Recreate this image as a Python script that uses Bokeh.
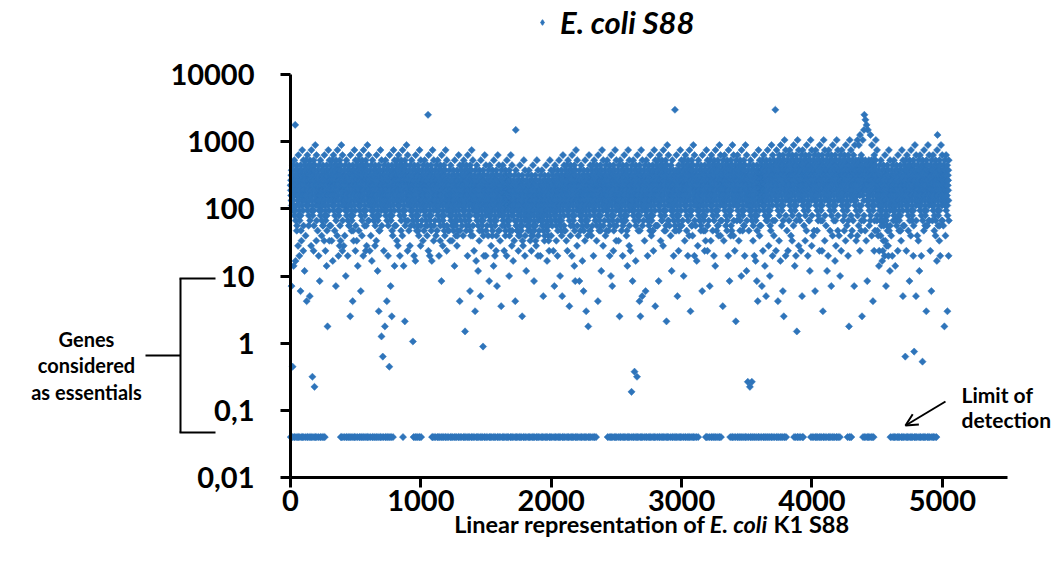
import math
from bokeh.plotting import figure
from bokeh.models import (FixedTicker, Label, Arrow, OpenHead, Legend, LegendItem,
                          ColumnDataSource, LinearAxis, LogAxis, CDSView, IndexFilter)
from bokeh.embed import file_html
from bokeh.resources import INLINE

# ---------------------------------------------------------------- data
# One code per gene, in genome order (gene 1, 2, 3, ...).
# "_" = gene at the limit of detection (0.04); any other code is a log10 level:
# index k in CODE_ALPHABET -> value 10 ** (LOG_FIRST + k * LOG_STEP)
CODE_ALPHABET = "0123456789ABCDEFGHIJKLMNOPQRSTUVWXYZabcdefghijklmnopqrstuvwxyz"
LOD_CODE = "_"
LOD_VALUE = 0.04
LOG_FIRST = -0.8
LOG_STEP = 0.075

genes_0001_1000 = [
    "g_fheidMjcfgh_e6idkbhgfQei_claeg_fhsjbRZgfh_eicXkYfgeh_djUamgf_eidcSbZhg_fijLkaXgheVi_djcng_fhedbTlY",
    "h_gifjePkdghi_fWjelcihgJfj_dmbfh_giekcYahgi_fjdKlZghfi_ekUbnhg_fjed4caih_gjkTlbYhif2j_ekdoh_gifecVmZ",
    "g_fheidXjcfgh_eSidkbhgfNei_claeg_fhdjbWZgfh_eicYkYfgeh_djVamgf_eidcTbZhgffijQkaXgheEiedjcngffhedbVlY",
    "hhgifjeYkdghigfVjelcihgRfjhdmbfhggiekcXahgihfjdMlZghfigekWbnhgifjedScaihhgjkUlbYhifVj_ekdoh_gifecTmZ",
    "g_fheidUjcfgh_eWidkbhgfOei_claeg_fhdjbSZgfh_eicYkYfgeh_djGamgf_eidcXbZhg_fijJkaXgheVi_djcng_fhedbTlY",
    "h_gifjeVkdghi_fQjelcihgXfj_dmbfh_giekcLahgi_fjdWlZghfi_ekSbnhg_fjedYcaih_gjkTlbYhifUj_ekdoh_gifecZmZ",
    "g_fheidTjcfgh_eWidkbhgfRei_claeg_fhdjbZZgfh_eicUkYfgeh_djVamgf_eidcPbZhg_fijHkaXgheXi_djcng_fhedbClY",
    "g_fheid8jcfgh_eTidkbhgfEei_claeg_fhdjbJZgfh_eicSkYfgeh_dj6amgf_eidcMbZhg_fijGkaXgheWi_djcngffhedbQlY",
    "hhgifjeYkdghiifVjelcihgUfjgdmbfhhgiekcSahgigfjdXlZghfihekWbnhg_fjedQcaihggjkFlbYhifZjgekdohhgifecTmZ",
    "ggfheidXjcfghgeUidkbhgfYeigclaegffhdjbBZgfh_eicSkYfgeh_djRamgf_eidcXbZhg_fijYkaXgheWi_djcng_fhedbUlY",
]
genes_1001_2000 = [
    "g_fheidZjcfghgeVidkbhgfXeigclaegffhdjbYZgfhgeicWkYfgehudjTamgfgeidcSbZhgffijYkaXgheRi_djcng_fhedbVlY",
    "g_fheidZjcfgh_eWidkbhgfXei_claeg_fhdjbSZgfh_eicVkYfgeh_djNamgf_eidcUbZhg_fijYkaXgheWi_djcng_fhedbTlY",
    "f_egdhcXibefg_dXhcjagfeVdh_bkZdf_egciaVYfeg_dhbYjXefdg_ciQZlfe_dhcbWaYgf_ehiUjZWfgdXh_cibmf_egdcaJkX",
    "g_fheidZjcfgh_eYidkbhgfWei_claeg_fhdjbDZgfh_eicXkYfgeh_djSamgf_eidcYbZhg_fijLkaXgheWi_djcng_fhedbWlY",
    "f_egdhcTibefg_dHhcjagfeRdh_bkZdf_egciaPYfeg_dhbVjXefdg_ciKZlfe_dhcbXaYgf_ehiAjZWfgdSh_cibmf_egdcaSkX",
    "f_egdhcYibefg_dWhcjagfeNdh_bkZdf_egciaUYfeg_dhbWjXefdg_ciQZlfe_dhcbSaYgf_ehiTjZWfgdMh_cibmf_egdcaXkX",
    "f_egdhcVibefg_dIhcjagfeYdh_bkZdf_egciaTYfeg_dhbWjXefdg_ciSZlfe_dhcbZaYgf_ehiOjZWfgdXh_cibmf_egdcaUkX",
    "e_dfcgbRhadef_cVgbiZfedJcg_rjYce_dfbhZXXedf_cgaTiWdecf_bhWYked_cgbaYZXfe_dghGiYVefcUg_bhale_dfcbZSjW",
    "e_dfcgbPhadef_cYgbiZfedXcg_ajYce_dfbhZVXedf_cgaTiWdecf_bhWYked_cgbaNZXfe_dghYiYVefcUg_bhale_dfcbZSjW",
    "e_dfcgbXhadef_cSgbiZfedZcg_ajYce_dfbhZKXedf_cgaViWdecf_bhYYked_cgbaRZXfe_dghWiYVefcTg_bhale_dfcbZZjW",
]
genes_2001_3000 = [
    "f_egdhcYibefg_dThcjagfeMdh_bkZdf_egciaVYfeg_dhbSjXefdg_ciZZlfe_dhcbOaYgf_ehiXjZWfgdKh_cibmf_egdcaYkX",
    "g_fheidXjcfgh_eVidkbhgfTei_claeg_fhdjbIZgfh_eicWkYfgeh_djSamgf_eidcYbZhg_fijQkaXgheNi_djcng_fhedbUlY",
    "f_egdhcWibefg_dNhcjagfeXdh_bkZdf_egciaRYfeg_dhbLjXefdg_ciVZlfe_dhcbHaYgf_ehiYjZWfgdEh_cibmf_egdcaXkX",
    "g_fheidWjcfgh_eYidkbhgfSei_claeg_fhdjbZZgfh_eicVkYfgehgdjJamgffeidcXbZhghfijYkaXghePiedjcnggfhedbUlY",
    "ggfheidZjcfghfeWidkbhgfXeigclaeg_fhdjbXZgfh_eicSkYfgeh_djOamgf_eidcMbZhg_fijTkaXgheYi_djcng_fhedbVlY",
    "g_fheidZjcfgh_eVidkbhgfGei_claeg_fhdjbXZgfh_eicSkYfgeh_djZamgf_eidcZbZhg_fijWkaXgheQi_djcng_fhedbUlY",
    "g_fheidTjcfgh_e1idkbhgfNei_claeg_fhdjb5Zgfh_eicRkYfgeh_dj4amgf_eidcXbZhg_fijJkaXgheGi_djcng_fhedbKlY",
    "g_fheidZjcfgh_eVidkbhgfLei_claeg_fhdjbSZgfh_eicZkYfgeh_djXamgf_eidcWbZhg_fijXkaXgheTi_djcng_fhedbIlY",
    "h_gifjeYkdghi_fYjelcihgNfj_dmbfh_giekcVahgi_fjdZlZghfi_ekUbnhg_fjedXcaih_gjkXlbYhifFj_ekdoh_gifecZmZ",
    "g_fheidYjcfgh_eWidkbhgfPei_claeg_fhdjbSZgfh_eicXvYfgeh_djXamgf_eidcKbZhg_fijTkaXgheYi_djcng_fhedbYlY",
]
genes_3001_4000 = [
    "h_gifjeZkdghi_fOjelcihgVfj_dmbfh_giekcXahgi_fjdSlZghfi_ekWbnhg_fjedHcaih_gjkYlbYhifWj_ekdoh_gifecSmZ",
    "g_fheidYjcfgh_eRidkbhgfUei_claegffhdjbZZgfhgeicXkYfgehfdjLamgfheidcXbZhgffijTkaXgheVi_djcng_fhedbTlY",
    "h_gifjeZkdghi_fMjelcihgVfj_dmbfh_giekcXahgi_fjdSlZghfi_ekQbnhg_fjedXcaih_gjkYlbYhifWj_ekdoh_gifecWmZ",
    "h_gifjeZkdghihfIjelcihgVfjgdmbfhhgiekcYahgigfjdXlZghfihekSbnhgifjedNcaih_gjkWlbYhifXj_ekdoh_gifecWmZ",
    "h_gifjeTkdghi_fFjelcihgZfj_dmbfh_giekcVahgi_fjdXlZghfi_ekObnhg_fjedXcaih_gjkYlbYhifSj_ekdoh_gifecPmZ",
    "g_fheid3jcfgh_eXidkbhgf2ei_claeg_fhdjb3Zgfh_eicVkYfgeh_djSamgf_eidcRbZhg_fijNkaXgheJi_djcng_fhedbWlY",
    "h_gifjeYkdghi_fMjelcihgTfj_dmbfh_giekcQahgi_fjdKlZghfi_ekZbnhg_fjedUcaih_gjkOlbYhifXj_ekdoh_gifecSmZ",
    "i_hjgkfWlehij_gZkfvdjihTgk_encgi_hjfldJbihj_gkeVmahigj_flRcoih_gkfeYdbji_hklLmcZijgGk_flepi_hjgfdSna",
    "i_hjgkfXlehijhgTkfmdjihZgkiencgiihjfldWbihjigkeVmahigjhflYcoih_gkfeQdbji_hklSmcZijgDk_flepi_hjgfdUna",
    "i_hjgkfZlehij_gTkfmdjihKgk_encgi_hjfldYbihjigkeVmahigjhflXcoihigkfeSdbjihhklZmcZijgPkiflepi_hjgfdUna",
]
genes_4001_5050 = [
    "i_hjgkfWlehij_gXkfmdjihLgk_encgi_hjfldXbihj_gkeZmahigj_flTcoih_gkfeZdbji_hklTmcZijgHk_flepi_hjgfdVna",
    "i_hjgkfYlehij_gPkfmdjihSgk_encgi_hjfldXbihj_gkeMmahigj_flWcoih_gkfeZdbji_hklRmcZijgUk_flepi_hjgfdXna",
    "i_hjgkfWlehij_gOkfmdjihTgkiencgiihjfldZbihjigkeXmahigjhflVcoihigkfeYdbji_hklSmcZijgEk_flepi_hjgfdWna",
    "i_hjgkfXlehijigZkfmdjihMgkjeocgiihjfldVbihjigkeWpahigjhflYcoihjgkfeTqbjiihklXmcZijgGkiflepi_hjgfdZra",
    "iu_jgkfXlthij_gVkfsdjihNgk_ercgi_hjfldYbihj_gkeZqahigj_flWcoih_gkfeJdbji_hklTmcZijgXkiflepihhjgfdZna",
    "gXfheidWjcfghQeTidkbhgfZeiWclaegYfhdjbRZgfhTeicVkYfgehZdjSamgfVeidcMbZhgUfijYkaXgheUiSdjcngXfhedbPlY",
    "g_fheidWjcfgh_eSidkbhgfZei_claeg_fhdjbQZgfh_eicZkYfgeh_djTamgf_eidcXbZhg_fijXkaXgheVi_djcng_fhedbKlY",
    "h_gifjeYkdghi_f8jelcihgTfj_dmbfh_giekcXahgi_fjdNlZghfi_ekWbnhg_fjedZcaih_gjkSlbYhif9j_ekdoh_gifecKmZ",
    "h_gifjeWkdghi_fVjelcihgPfj_dmbfh_giekcSahgi_fjd7lZghfi_ekXbnhg_fjedYcaih_gjkHlbYhifYj_ekdoh_gifecZmZ",
    "h_gifjeTkdghi_fLjelcihgZfj_dmbfh_giekcXahgi_fjdWlZghfi_ekRbnhgqfjedYcaihhgjkVlbYhifSjgekdohhgifecZmZ",
    "hhgifjeYkdghiifEjelcihgWfjhdmbfhggiekcHahgihfjdSlZ",
]

X_TICKS = [0, 1000, 2000, 3000, 4000, 5000]
Y_TICKS = [0.01, 0.1, 1, 10, 100, 1000, 10000]
Y_TICK_LABELS = ["0,01", "0,1", "1", "10", "100", "1000", "10000"]
SERIES_NAME = "E. coli S88"

# ---------------------------------------------------------------- decode
codes = "".join(genes_0001_1000 + genes_1001_2000 + genes_2001_3000
                + genes_3001_4000 + genes_4001_5050)
gene_pos, gene_val = [], []
for i, c in enumerate(codes):
    gene_pos.append(i + 1)
    if c == LOD_CODE:
        gene_val.append(LOD_VALUE)
    else:
        gene_val.append(10 ** (LOG_FIRST + CODE_ALPHABET.index(c) * LOG_STEP))
src = ColumnDataSource(dict(x=gene_pos, y=gene_val))

# ---------------------------------------------------------------- layout
W, H = 1052, 565
# plot box in canvas pixels (axes drawn at fixed locations inside a full-canvas frame)
PX_L, PX_R, PX_T, PX_B = 290, 1007, 74, 477
X_MIN, X_MAX = 0, 5500
LOG_MIN, LOG_MAX = -2, 4
ppx = (PX_R - PX_L) / (X_MAX - X_MIN)
ppd = (PX_B - PX_T) / (LOG_MAX - LOG_MIN)
x_range = (X_MIN - PX_L / ppx, X_MAX + (W - PX_R) / ppx)
y_range = (10 ** (LOG_MIN - (H - PX_B) / ppd), 10 ** (LOG_MAX + PX_T / ppd))

FONT = "Lato"
BLUE = "#2E74BA"

p = figure(width=W, height=H, x_range=x_range, y_range=y_range,
           y_axis_type="log", x_axis_location=None, y_axis_location=None,
           output_backend="svg", toolbar_location=None,
           min_border=0, min_border_left=0, min_border_right=0,
           min_border_top=0, min_border_bottom=0, outline_line_color=None,
           background_fill_color="white", border_fill_color="white")
p.grid.visible = False

r = p.scatter("x", "y", source=src, marker="square", angle=math.pi / 4, size=5.1,
              fill_color=BLUE, line_color=BLUE, line_width=0.5)
# legend swatch: diamond glyph over the first gene's own point
swatch = p.scatter("x", "y", source=src, view=CDSView(filter=IndexFilter(indices=[0])),
                   marker="diamond", size=7, fill_color=BLUE, line_color=BLUE)

xaxis = LinearAxis(fixed_location=Y_TICKS[0], bounds=(X_MIN, X_MAX),
                   ticker=FixedTicker(ticks=X_TICKS), major_label_standoff=2)
yaxis = LogAxis(fixed_location=X_MIN, bounds=(Y_TICKS[0], Y_TICKS[-1]),
                ticker=FixedTicker(ticks=Y_TICKS), major_label_standoff=26,
                major_label_overrides={t: s for t, s in zip(Y_TICKS, Y_TICK_LABELS)})
for ax in (xaxis, yaxis):
    ax.axis_line_width = 3
    ax.axis_line_color = "black"
    ax.major_tick_line_width = 3
    ax.major_tick_line_color = "black"
    ax.major_tick_in = 0
    ax.major_tick_out = 10
    ax.minor_tick_line_color = None
    ax.major_label_text_font = FONT
    ax.major_label_text_font_style = "bold"
    ax.major_label_text_font_size = "29px"
    ax.major_label_text_color = "black"
p.add_layout(xaxis, "below")
p.add_layout(yaxis, "left")

# legend used as the heading
legend = Legend(items=[LegendItem(label=SERIES_NAME, renderers=[swatch])],
                location=(535, H - 41), orientation="horizontal",
                label_text_font=FONT, label_text_font_style="bold italic",
                label_text_font_size="31px", label_text_color="black",
                glyph_width=14, glyph_height=30, label_height=30,
                label_standoff=11, padding=0, margin=0, spacing=0,
                background_fill_alpha=0, border_line_alpha=0)
p.add_layout(legend, "center")


def label(text, x, y, align="center", style="bold", size="20px"):
    """x, y in canvas pixels from the top-left corner"""
    p.add_layout(Label(x=x, y=H - y, x_units="screen", y_units="screen", text=text,
                       text_font=FONT, text_font_style=style,
                       text_font_size=size, text_align=align,
                       text_baseline="middle", text_color="black"))


def seg(x0, y0, x1, y1, head=None):
    """line in canvas pixels from the top-left corner"""
    p.add_layout(Arrow(x_start=x0, y_start=H - y0, x_end=x1, y_end=H - y1,
                       start_units="screen", end_units="screen",
                       line_width=2, line_color="black", end=head))


# x axis title with italic species name
label("Linear representation of", 705, 523, align="right", size="23.5px")
label("E. coli", 738, 523, style="bold italic", size="23.5px")
label("K1 S88", 773, 523, align="left", size="23.5px")

# left bracket note
label("Genes", 86, 338)
label("considered", 86, 364)
label("as essentials", 86, 391)
seg(180, 278, 180, 432)
seg(179, 278, 215, 278)
seg(179, 432, 215, 432)
seg(145, 355, 180, 355)

# limit of detection note
label("Limit of", 961, 394, align="left", size="21px")
label("detection", 961, 419, align="left", size="21px")
seg(945, 401, 905, 425, head=OpenHead(size=12, line_width=2, line_color="black"))

open("out.html", "w").write(file_html(p, INLINE))
